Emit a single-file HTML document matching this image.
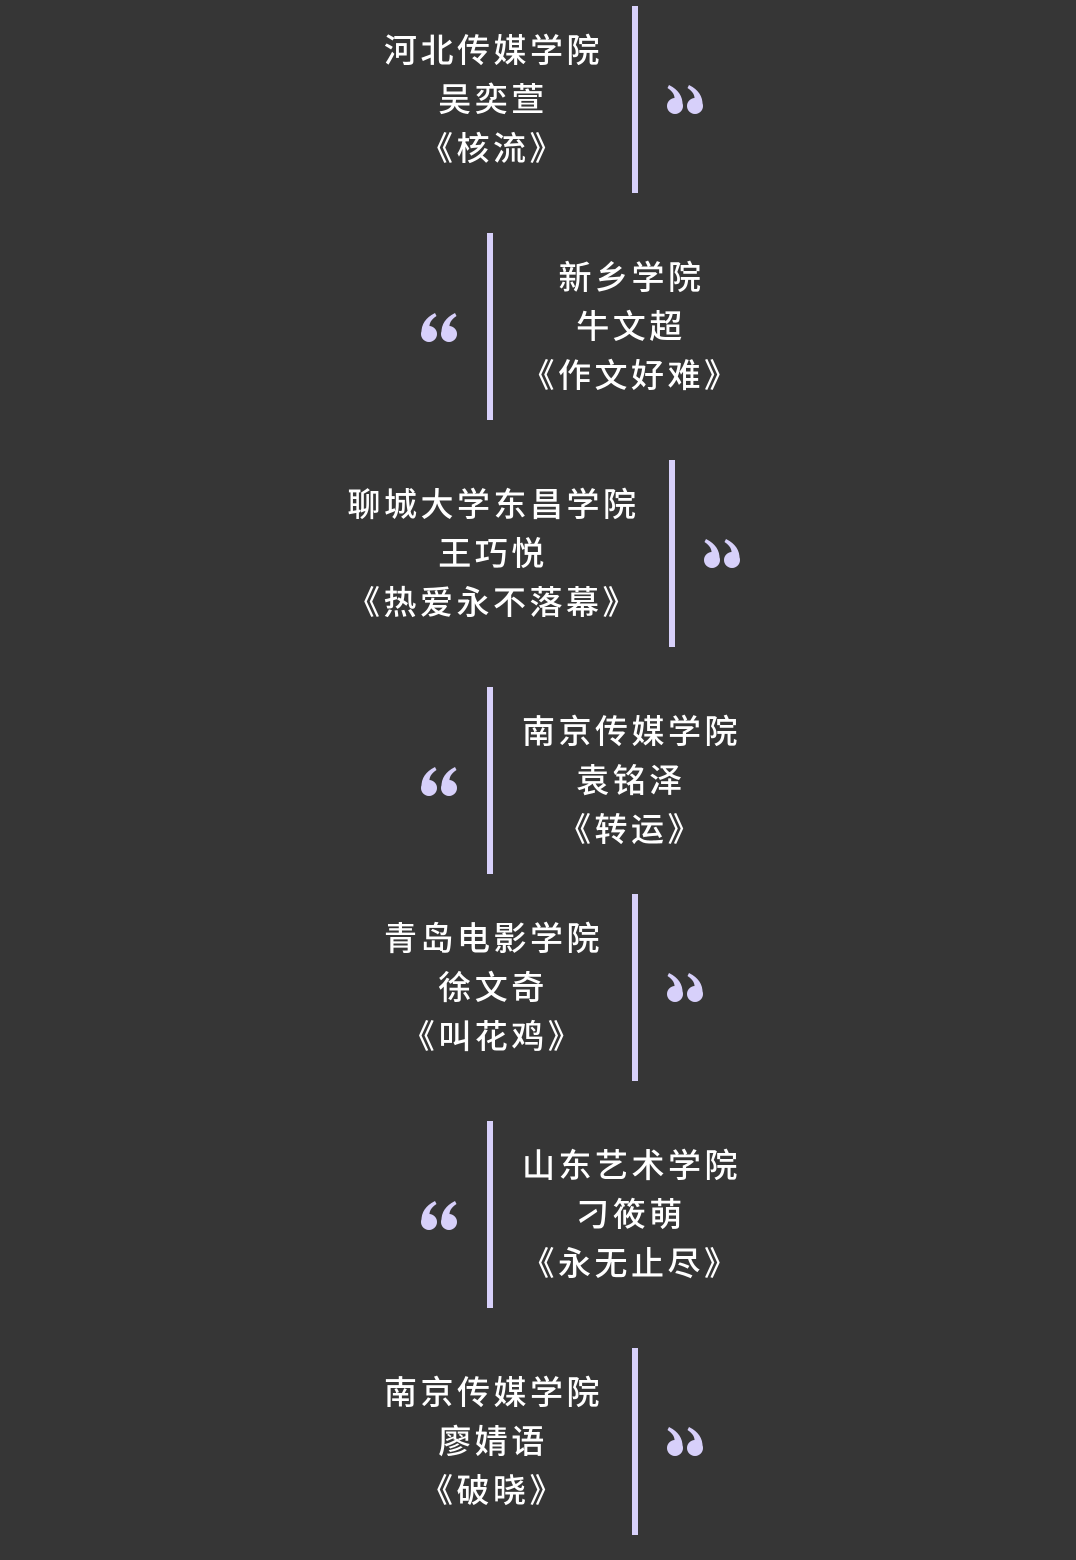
<!DOCTYPE html>
<html><head><meta charset="utf-8"><style>
html,body{margin:0;padding:0;background:#363636;}
body{width:1076px;height:1560px;position:relative;overflow:hidden;font-family:"Liberation Sans","Noto Sans CJK SC",sans-serif;}
.bar{position:absolute;width:6px;height:187px;background:#d7d0fa;}
.t{position:absolute;width:400px;text-align:center;color:#fff;font-size:33px;line-height:49px;letter-spacing:3.5px;font-weight:500;text-indent:1px;}
.q{position:absolute;width:38px;height:30px;}
</style></head><body>
<svg width="0" height="0" style="position:absolute"><defs>
<g id="m"><circle cx="8" cy="21" r="8" fill="#d7d0fa"/><path d="M0.5,20 Q0,7 14,0 L15.5,3 Q8,8 8.5,14 Z" fill="#d7d0fa"/></g>
<g id="open"><use href="#m"/><use href="#m" transform="translate(20,0)"/></g>
</defs></svg>

<div class="bar" style="left:632px;top:6px"></div>
<div class="t" style="left:293px;top:26px">河北传媒学院<br>吴奕萱<br>《核流》</div>
<svg class="q" style="left:665px;top:85px" viewBox="0 0 38 30"><g transform="translate(38,0) scale(-1,1)"><use href="#open"/></g></svg>

<div class="bar" style="left:487px;top:233px"></div>
<div class="t" style="left:431px;top:253px">新乡学院<br>牛文超<br>《作文好难》</div>
<svg class="q" style="left:421px;top:313px" viewBox="0 0 38 30"><use href="#open"/></svg>

<div class="bar" style="left:669px;top:460px"></div>
<div class="t" style="left:293px;top:480px">聊城大学东昌学院<br>王巧悦<br>《热爱永不落幕》</div>
<svg class="q" style="left:702px;top:539px" viewBox="0 0 38 30"><g transform="translate(38,0) scale(-1,1)"><use href="#open"/></g></svg>

<div class="bar" style="left:487px;top:687px"></div>
<div class="t" style="left:431px;top:707px">南京传媒学院<br>袁铭泽<br>《转运》</div>
<svg class="q" style="left:421px;top:767px" viewBox="0 0 38 30"><use href="#open"/></svg>

<div class="bar" style="left:632px;top:894px"></div>
<div class="t" style="left:293px;top:914px">青岛电影学院<br>徐文奇<br>《叫花鸡》</div>
<svg class="q" style="left:665px;top:973px" viewBox="0 0 38 30"><g transform="translate(38,0) scale(-1,1)"><use href="#open"/></g></svg>

<div class="bar" style="left:487px;top:1121px"></div>
<div class="t" style="left:431px;top:1141px">山东艺术学院<br>刁筱萌<br>《永无止尽》</div>
<svg class="q" style="left:421px;top:1201px" viewBox="0 0 38 30"><use href="#open"/></svg>

<div class="bar" style="left:632px;top:1348px"></div>
<div class="t" style="left:293px;top:1368px">南京传媒学院<br>廖婧语<br>《破晓》</div>
<svg class="q" style="left:665px;top:1427px" viewBox="0 0 38 30"><g transform="translate(38,0) scale(-1,1)"><use href="#open"/></g></svg>
</body></html>
